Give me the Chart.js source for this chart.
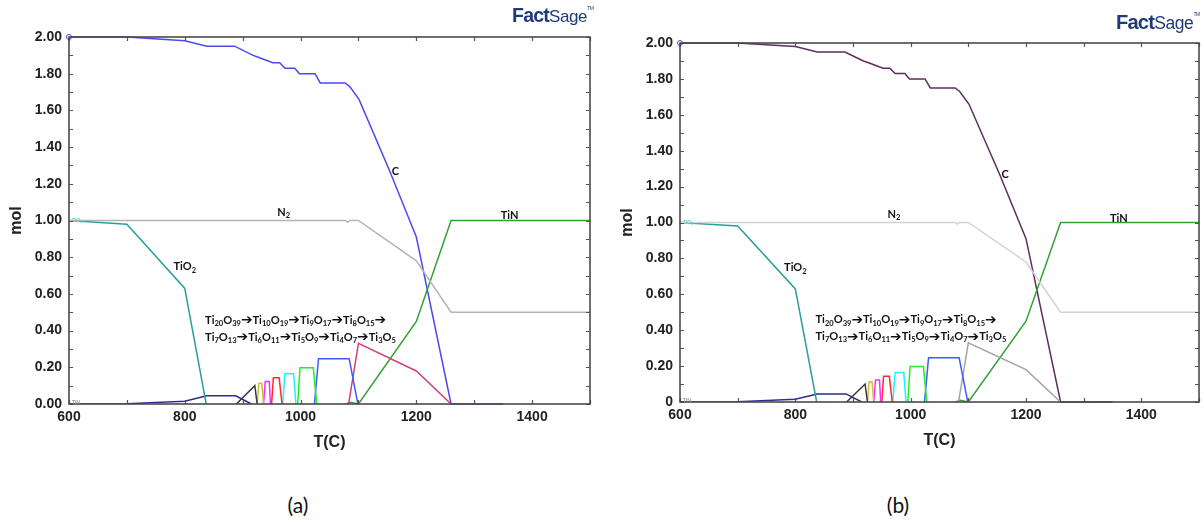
<!DOCTYPE html>
<html><head><meta charset="utf-8">
<script src="https://cdn.jsdelivr.net/npm/chart.js@4.4.1/dist/chart.umd.min.js"></script>
<style>
html,body{margin:0;padding:0;background:#fff;width:1204px;height:527px;overflow:hidden}
.panel{position:absolute;top:0;height:470px}
#pa{left:0;width:600px}
#pb{left:611px;width:593px}
.logo{position:absolute;color:#1f3a78;font-family:'Liberation Sans Narrow','Liberation Sans',sans-serif;white-space:nowrap;line-height:1;letter-spacing:-0.4px}
.logo .f{font-family:'Liberation Sans',sans-serif;font-weight:900;letter-spacing:-0.8px;font-size:1.15em}
.logo sup{font-size:5px;vertical-align:top;position:relative;top:0px}
.cap{position:absolute;font-family:Lato,'Open Sans',sans-serif;font-size:21px;color:#111;transform:translateX(-50%)}
</style>
</head><body>
<div class="panel" id="pa"><canvas id="ca"></canvas></div>
<div class="panel" id="pb"><canvas id="cb"></canvas></div>
<div class="logo" style="left:512px;top:6px;font-size:17px"><span class="f">Fact</span><span>Sage</span><sup>TM</sup></div>
<div class="logo" style="left:1116px;top:12px;font-size:17.5px"><span class="f">Fact</span><span>Sage</span><sup>TM</sup></div>
<div class="cap" style="left:298px;top:492px">(a)</div>
<div class="cap" style="left:898px;top:492px">(b)</div>
<script>
// ---- data, T in °C, amounts in mol ----
const T_C      = [600,700,800,838,886,918,927,935,952,964,973,990,998,1025,1034,1077,1085,1101,1154,1200,1260,1350];
const C_mol    = [2.00,2.00,1.98,1.95,1.95,1.90,1.89,1.88,1.86,1.86,1.83,1.83,1.80,1.80,1.75,1.75,1.73,1.66,1.27,0.91,0,0];
const T_N2     = [600,1078,1081,1085,1100,1200,1260,1500];
const N2_mol   = [1.00,1.00,0.99,1.00,1.00,0.78,0.50,0.50];
const T_TiO2   = [600,700,800,837];
const TiO2_mol = [1.00,0.98,0.63,0];
const T_Ti20O39 = [600,700,800,838,888,915];
const Ti20O39_mol = [0,0.002,0.015,0.045,0.045,0];
const T_Ti10O19 = [889,921,925];
const Ti10O19_mol = [0,0.10,0];
const T_Ti9O17 = [925,928,933,936];
const Ti9O17_mol = [0,0.113,0.113,0];
const T_Ti8O15 = [936,939,946,948];
const Ti8O15_mol = [0,0.122,0.122,0];
const T_Ti7O13 = [950,953,963,968];
const Ti7O13_mol = [0,0.143,0.143,0];
const T_Ti6O11 = [969,973,988,992];
const Ti6O11_mol = [0,0.165,0.165,0];
const T_Ti5O9 = [995,999,1022,1028];
const Ti5O9_mol = [0,0.198,0.198,0];
const T_Ti4O7 = [1024,1031,1084,1099];
const Ti4O7_mol = [0,0.247,0.247,0];
const T_Ti3O5 = [1083,1100,1200,1260];
const Ti3O5_mol = [0,0.33,0.18,0];
const T_TiN   = [1078,1086,1100,1200,1260,1500];
const TiN_mol = [0,0.01,0,0.45,1.00,1.00];

const xTicks = [600,800,1000,1200,1400];
const yTicksA = ['0.00','0.20','0.40','0.60','0.80','1.00','1.20','1.40','1.60','1.80','2.00'];
const yTicksB = ['0','0.20','0.40','0.60','0.80','1.00','1.20','1.40','1.60','1.80','2.00'];

const FONT = "Lato, 'DejaVu Sans', sans-serif";
const labels = [
  {t:'N_2', x:971, y:1.045, s:11, a:'center'},
  {t:'TiO_2', x:800, y:0.747, s:11, a:'center'},
  {t:'C', x:1164, y:1.27, s:11, a:'center'},
  {t:'TiN', x:1361, y:1.025, s:11, a:'center'},
  {t:'Ti_20O_39➔Ti_10O_19➔Ti_9O_17➔Ti_8O_15➔', x:835, y:0.458, s:11.1, a:'left'},
  {t:'Ti_7O_13➔Ti_6O_11➔Ti_5O_9➔Ti_4O_7➔Ti_3O_5', x:835, y:0.365, s:11.1, a:'left'}
];

function pts(xs, ys){ return xs.map((x,i)=>({x:x, y:ys[i]})); }

function fontFor(kind, size){
  if(kind==='sub') return 'bold '+(size*0.68)+'px '+FONT;
  if(kind==='arr') return 'bold '+(size*1.25)+"px 'DejaVu Sans', sans-serif";
  return 'bold '+size+'px '+FONT;
}
function drawRich(ctx, str, x, y, size, align, color){
  const parts = str.split(/(_\d+|➔)/).filter(s=>s.length);
  const items = parts.map(p=>{
    if(p[0]==='_') return {k:'sub', t:p.slice(1)};
    if(p==='➔') return {k:'arr', t:p};
    return {k:'n', t:p};
  });
  let w = 0;
  items.forEach(it=>{ ctx.font = fontFor(it.k,size); w += ctx.measureText(it.t).width; });
  let cx = align==='center' ? x - w/2 : x;
  ctx.fillStyle = color; ctx.textBaseline='middle'; ctx.textAlign='left';
  items.forEach(it=>{
    ctx.font = fontFor(it.k,size);
    const dy = it.k==='sub' ? size*0.32 : (it.k==='arr' ? 0.5 : 0);
    ctx.fillText(it.t, cx, y+dy);
    cx += ctx.measureText(it.t).width;
  });
}

const framePlugin = {
  id:'frame',
  afterDatasetsDraw(chart){
    const {ctx, chartArea:a, scales:{x, y}} = chart;
    ctx.save();
    ctx.strokeStyle = '#555'; ctx.lineWidth = 1.2;
    ctx.beginPath();
    for(let i=0;i<=20;i++){ const py = Math.round(y.getPixelForValue(i/10))+0.5;
      ctx.moveTo(a.left, py); ctx.lineTo(a.left+4, py);
      ctx.moveTo(a.right, py); ctx.lineTo(a.right-4, py); }
    for(let v=600; v<=1500; v+=100){ const px = Math.round(x.getPixelForValue(v))+0.5;
      ctx.moveTo(px, a.bottom); ctx.lineTo(px, a.bottom-4);
      ctx.moveTo(px, a.top); ctx.lineTo(px, a.top+4); }
    ctx.stroke();
    ctx.lineWidth = 1.6; ctx.strokeStyle = '#4a4a4a';
    ctx.strokeRect(a.left, a.top, a.right-a.left, a.bottom-a.top);
    labels.forEach(L=>{
      drawRich(ctx, L.t, x.getPixelForValue(L.x), y.getPixelForValue(L.y), L.s, L.a, '#111');
    });
    drawRich(ctx, 'TiO_2', a.left+3, y.getPixelForValue(1.0), 5, 'left', '#6cc');
    drawRich(ctx, 'TiN', a.left+3, y.getPixelForValue(0)-2, 5, 'left', '#999');
    ctx.restore();
  }
};

function ds(data, color){
  return {data:data, borderColor:color, borderWidth:1.5, pointRadius:0, fill:false, tension:0};
}

function makeChart(id, colC, colN2, colTi3O5, yTickLabels, padTop, padBottom){
  const cC = ds(pts(T_C, C_mol), colC);
  cC.pointRadius = c => c.dataIndex===0 ? 2.5 : 0;
  cC.pointBorderColor = '#4a4af0'; cC.pointBackgroundColor = '#fff'; cC.pointBorderWidth = 1; cC.clip = 6;
  const datasets = [
    ds(pts(T_N2, N2_mol), colN2),
    ds(pts(T_TiO2, TiO2_mol), '#2b9e9e'),
    ds(pts(T_Ti20O39, Ti20O39_mol), '#2c2c8c'),
    ds(pts(T_Ti10O19, Ti10O19_mol), '#3a3a3a'),
    ds(pts(T_Ti9O17, Ti9O17_mol), '#c8c030'),
    ds(pts(T_Ti8O15, Ti8O15_mol), '#ff28ff'),
    ds(pts(T_Ti7O13, Ti7O13_mol), '#ff2a2a'),
    ds(pts(T_Ti6O11, Ti6O11_mol), '#20f0ff'),
    ds(pts(T_Ti5O9, Ti5O9_mol), '#20f020'),
    ds(pts(T_Ti4O7, Ti4O7_mol), '#4058ff'),
    ds(pts(T_Ti3O5, Ti3O5_mol), colTi3O5),
    ds(pts(T_TiN, TiN_mol), '#34a034'),
    cC
  ];
  return new Chart(document.getElementById(id), {
    type:'line',
    data:{datasets},
    plugins:[framePlugin],
    options:{
      responsive:true, maintainAspectRatio:false, animation:false,
      layout:{padding:{left:0, top:padTop, right:id==='ca'?10:5, bottom:padBottom}},
      plugins:{legend:{display:false}, tooltip:{enabled:false}},
      scales:{
        x:{type:'linear', min:600, max:1500,
           afterBuildTicks(s){ s.ticks = xTicks.map(v=>({value:v})); },
           afterFit(s){ s.height = 60; },
           grid:{display:false, drawTicks:false}, border:{display:false},
           ticks:{padding:5, color:'#222', font:{family:"'Liberation Sans', Arial, sans-serif", size:14, weight:'bold'}, maxRotation:0,
                  callback:v=>String(v)},
           title:{display:true, text:'T(C)', color:'#222', padding:{top:12,bottom:12}, font:{family:"'Liberation Sans', Arial, sans-serif", size:16, weight:'bold'}}},
        y:{type:'linear', min:0, max:2,
           afterBuildTicks(s){ s.ticks = yTickLabels.map((t,i)=>({value:i*0.2})); },
           afterFit(s){ s.width = 69; },
           grid:{display:false, drawTicks:false}, border:{display:false},
           ticks:{padding:7, color:'#222', font:{family:"'Liberation Sans', Arial, sans-serif", size:14, weight:'bold'},
                  callback:(v,i)=>yTickLabels[i]},
           title:{display:true, text:'mol', color:'#222', padding:{top:7,bottom:7}, font:{family:"'Liberation Sans', Arial, sans-serif", size:16, weight:'bold'}}}
      }
    }
  });
}

makeChart('ca', '#4a4af0', '#b4b4b4', '#d0407a', yTicksA, 37, 6);
makeChart('cb', '#5e2c5e', '#d2d2d2', '#a4a4a4', yTicksB, 43, 8);
</script>
</body></html>
